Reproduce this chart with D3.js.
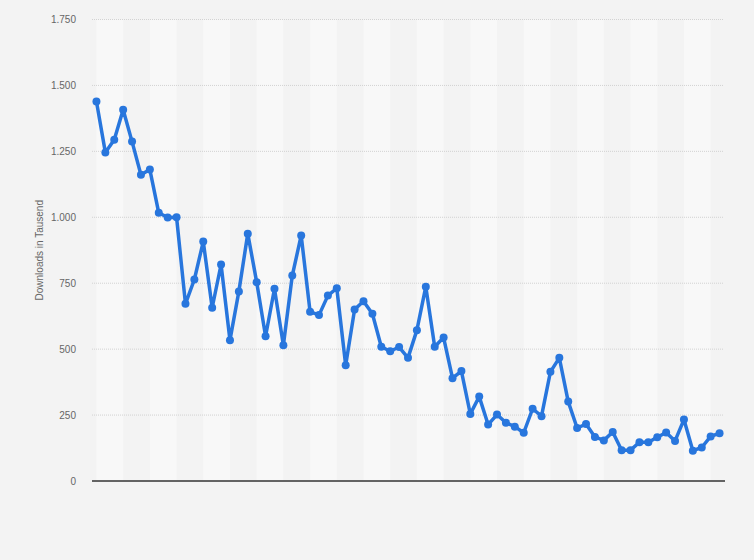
<!DOCTYPE html>
<html>
<head>
<meta charset="utf-8">
<script src="https://cdn.jsdelivr.net/npm/d3@7"></script>
<style>
	body { margin: 0; background: #f3f3f3; }
	svg { display: block; font-family: "Liberation Sans", Arial, sans-serif; }
</style>
</head>
<body>
<div id="chart"></div>
<script>
// values, one per period (71 points)
var downloads = [1439,1246,1294,1408,1287,1161,1181,1017,999,1000,
	672,764,908,657,821,534,719,938,754,549,
	729,515,779,931,642,629,703,731,439,650,
	682,634,509,492,508,467,572,737,509,544,
	390,417,254,320,214,252,221,206,183,274,
	246,414,467,301,201,216,167,154,186,117,
	117,147,147,166,184,152,233,115,127,169,181];
var yTicks = [0,250,500,750,1000,1250,1500,1750];
var yTitle = "Downloads in Tausend";
var bandStep = 6;   // light band every 6 points
var bandSpan = 3;   // each light band covers 3 point steps

var W = 754, H = 560;
var margin = {top: 19.5, right: 30, bottom: 79, left: 92};

var svg = d3.select("#chart").append("svg")
			.attr("width", W)
			.attr("height", H);

var x = d3.scaleLinear()
		.domain([-0.5, downloads.length - 0.5])
		.range([margin.left, W - margin.right]);

var y = d3.scaleLinear()
		.domain([0, 1750])
		.range([H - margin.bottom, margin.top]);

var de = d3.formatLocale({decimal: ",", thousands: ".", grouping: [3], currency: ["", " €"]});
var fmt = de.format(",");

// alternating bands
var bands = d3.range(0, downloads.length - bandSpan, bandStep);
svg.selectAll(".band").data(bands).enter().append("rect")
		.attr("class", "band")
		.attr("x", function(d){ return x(d); })
		.attr("width", function(d){ return x(d + bandSpan) - x(d); })
		.attr("y", y(1750))
		.attr("height", y(0) - y(1750))
		.attr("fill", "#f8f8f8");

// grid lines
svg.selectAll(".grid").data(yTicks.filter(function(d){ return d > 0; })).enter().append("line")
		.attr("class", "grid")
		.attr("x1", x.range()[0])
		.attr("x2", x.range()[1])
		.attr("y1", function(d){ return y(d); })
		.attr("y2", function(d){ return y(d); })
		.attr("stroke", "#d2d2d2")
		.attr("stroke-width", 1)
		.attr("stroke-dasharray", "1,1");

// y axis labels
svg.selectAll(".ylab").data(yTicks).enter().append("text")
		.attr("class", "ylab")
		.attr("x", 76)
		.attr("y", function(d){ return y(d); })
		.attr("dy", "0.35em")
		.attr("text-anchor", "end")
		.attr("fill", "#666")
		.style("font-size", "10px")
		.text(function(d){ return fmt(d); });

svg.append("text")
		.attr("transform", "translate(43," + ((y(0) + y(1750)) / 2) + ") rotate(-90)")
		.attr("text-anchor", "middle")
		.attr("fill", "#666")
		.style("font-size", "10px")
		.text(yTitle);

// baseline
svg.append("line")
		.attr("x1", x.range()[0])
		.attr("x2", x.range()[1] + 1)
		.attr("y1", y(0))
		.attr("y2", y(0))
		.attr("stroke", "#333")
		.attr("stroke-width", 1.5);

// series
var line = d3.line()
		.x(function(d, i){ return x(i); })
		.y(function(d){ return y(d); });

svg.append("path")
		.datum(downloads)
		.attr("d", line)
		.attr("fill", "none")
		.attr("stroke", "#2876dd")
		.attr("stroke-width", 3.5)
		.attr("stroke-linejoin", "round");

svg.selectAll(".dot").data(downloads).enter().append("circle")
		.attr("class", "dot")
		.attr("cx", function(d, i){ return x(i); })
		.attr("cy", function(d){ return y(d); })
		.attr("r", 4)
		.attr("fill", "#2876dd");
</script>
</body>
</html>
